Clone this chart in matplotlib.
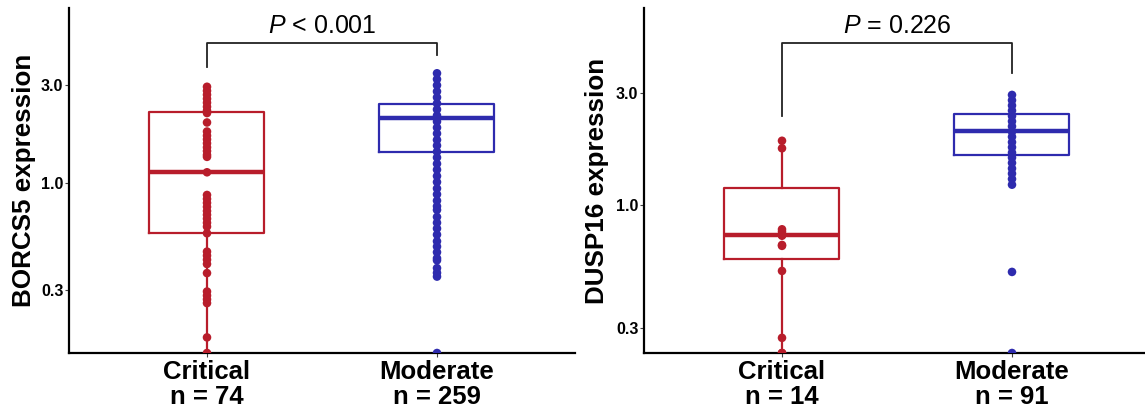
import numpy as np
import matplotlib
matplotlib.use('Agg')
import matplotlib.pyplot as plt

plt.rcParams['font.family'] = ['Liberation Sans', 'DejaVu Sans']
plt.rcParams['mathtext.fontset'] = 'custom'
plt.rcParams['mathtext.rm'] = 'Liberation Sans'
plt.rcParams['mathtext.it'] = 'Liberation Sans:italic'

RED = '#B81D2B'
BLUE = '#2E2BAE'

groups = ['Critical', 'Moderate']

# BORCS5 panel
borcs5_n = [74, 259]
borcs5_crit_pts = [2.94, 2.81, 2.69, 2.57, 2.46, 2.35, 2.25, 2.19, 1.97,
                   1.78, 1.70, 1.63, 1.56, 1.49, 1.43, 1.37, 1.34, 1.127,
                   0.874, 0.836, 0.80, 0.765, 0.73, 0.70, 0.67, 0.64, 0.613,
                   0.569, 0.463, 0.443, 0.423, 0.403, 0.364,
                   0.296, 0.283, 0.271, 0.26, 0.177, 0.1486]
borcs5_mod_pts = [3.42, 3.20, 2.99, 2.79, 2.61, 2.44, 2.28, 2.13, 1.99, 1.86,
                  1.74, 1.62, 1.52, 1.42, 1.33, 1.24, 1.16, 1.08, 1.01, 0.94,
                  0.88, 0.82, 0.77, 0.739,
                  0.683, 0.64, 0.60, 0.56, 0.52, 0.49, 0.46, 0.43, 0.42,
                  0.385, 0.365, 0.35, 0.1486]
# box stats: whislo, q1, median, q3, whishi
borcs5_crit_box = [0.1486, 0.569, 1.127, 2.22, 2.94]
borcs5_mod_box = [0.645, 1.416, 2.07, 2.42, 3.42]
borcs5_p = '$P$ < 0.001'

# DUSP16 panel
dusp16_n = [14, 91]
dusp16_crit_pts = [1.876, 1.743, 0.788, 0.77, 0.75, 0.75, 0.745, 0.74,
                   0.676, 0.67, 0.524, 0.272, 0.2345, 0.2345]
dusp16_mod_pts = [2.94, 2.79, 2.65, 2.52, 2.39, 2.27, 2.16, 2.05, 1.95, 1.85,
                  1.76, 1.67, 1.59, 1.51, 1.43, 1.36, 1.29, 1.22,
                  0.519, 0.2345]
dusp16_crit_box = [0.2345, 0.587, 0.745, 1.178, 1.876]
dusp16_mod_box = [1.22, 1.63, 2.07, 2.44, 2.94]
dusp16_p = '$P$ = 0.226'

yticks = [0.3, 1.0, 3.0]


def box_dict(b):
    return dict(whislo=b[0], q1=b[1], med=b[2], q3=b[3], whishi=b[4],
                fliers=[])


def panel(ax, name, n, crit_pts, mod_pts, crit_box, mod_box, ptxt,
          ylim, bracket, text_y, label_x):
    ax.set_yscale('log')
    for pos, b, pts, c in [(1, crit_box, crit_pts, RED),
                           (2, mod_box, mod_pts, BLUE)]:
        ax.bxp([box_dict(b)], positions=[pos], widths=0.5, showcaps=False,
               showfliers=False,
               boxprops=dict(color=c, lw=1.6),
               whiskerprops=dict(color=c, lw=1.6),
               medianprops=dict(color=c, lw=3.2, solid_capstyle='butt'))
        ax.scatter(np.full(len(pts), pos), pts, s=38, color=c,
                   edgecolors='none', zorder=3)

    ax.set_xlim(0.4, 2.6)
    ax.set_ylim(*ylim)
    ax.set_xticks([1, 2])
    ax.set_xticklabels([f'{g}\nn = {k}' for g, k in zip(groups, n)],
                       fontsize=18.5, fontweight='bold', linespacing=1.08)
    ax.set_yticks(yticks)
    ax.set_yticklabels([f'{t:.1f}' for t in yticks], fontsize=11.5,
                       fontweight='bold')
    ax.minorticks_off()
    ax.tick_params(axis='both', length=3, width=0.8, color='#444444')
    ax.tick_params(axis='x', pad=2)
    ax.tick_params(axis='y', pad=1)
    for s in ['top', 'right']:
        ax.spines[s].set_visible(False)
    for s in ['left', 'bottom']:
        ax.spines[s].set_linewidth(1.6)
        ax.spines[s].set_color('black')
    ax.set_ylabel(f'{name} expression', fontsize=18.7, fontweight='bold',
                  va='center')
    ax.yaxis.set_label_coords(label_x, 0.5)

    y_left, y_top, y_right = bracket
    ax.plot([1, 1, 2, 2], [y_left, y_top, y_top, y_right], color='#222222',
            lw=1.3, clip_on=False)
    ax.text(1.5, text_y, ptxt, ha='center', va='baseline', fontsize=18)


fig = plt.figure(figsize=(11.45, 4.11), dpi=100)
W, H = 1145, 411
ax1 = fig.add_axes([69 / W, (H - 353) / H, 506 / W, 345 / H])
ax2 = fig.add_axes([644 / W, (H - 353) / H, 506 / W, 345 / H])

panel(ax1, 'BORCS5', borcs5_n, borcs5_crit_pts, borcs5_mod_pts,
      borcs5_crit_box, borcs5_mod_box, borcs5_p,
      (0.1486, 7.11), (3.68, 4.80, 4.20), 5.36, -0.089)
panel(ax2, 'DUSP16', dusp16_n, dusp16_crit_pts, dusp16_mod_pts,
      dusp16_crit_box, dusp16_mod_box, dusp16_p,
      (0.2345, 6.89), (2.38, 4.88, 3.63), 5.38, -0.093)

fig.savefig('out.png', dpi=100)
